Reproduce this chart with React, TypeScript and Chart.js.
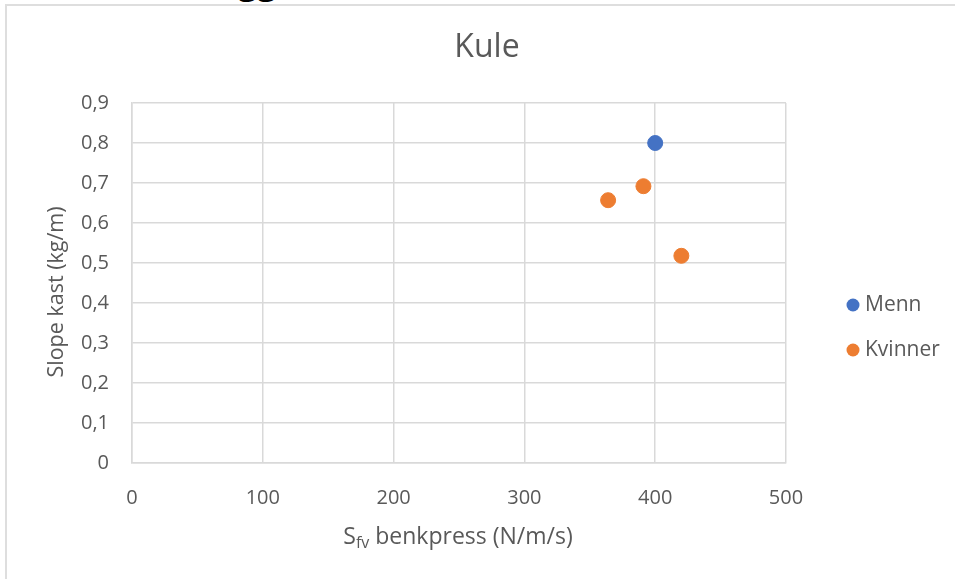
import React, { useEffect, useRef } from "react";
import { Chart, registerables } from "chart.js";

Chart.register(...registerables);

const chartTitle = "Kule";
const yAxisTitle = "Slope kast (kg/m)";
const xAxisTitleMain = "S";
const xAxisTitleSub = "fv";
const xAxisTitleRest = " benkpress (N/m/s)";

const seriesNames = ["Menn", "Kvinner"];
const seriesColors = ["#4472C4", "#ED7D31"];

const mennX = [400];
const mennY = [0.8];
const kvinnerX = [364, 391, 420];
const kvinnerY = [0.657, 0.692, 0.518];

const xTickLabels = ["0", "100", "200", "300", "400", "500"];
const yTickLabels = ["0", "0,1", "0,2", "0,3", "0,4", "0,5", "0,6", "0,7", "0,8", "0,9"];

const FONT = "'Open Sans', sans-serif";
const TEXT = "#595959";
const GRID = "#d9d9d9";

export default function App() {
  const ref = useRef<HTMLCanvasElement>(null);

  useEffect(() => {
    if (!ref.current) return;
    const decor = {
      id: "decor",
      afterDraw(chart: any) {
        const ctx = chart.ctx as CanvasRenderingContext2D;
        ctx.save();
        ctx.fillStyle = TEXT;
        // title
        ctx.font = `32px ${FONT}`;
        ctx.textAlign = "center";
        ctx.textBaseline = "middle";
        ctx.fillText(chartTitle, 487, 48);
        // y title
        ctx.save();
        ctx.translate(57, 292);
        ctx.rotate(-Math.PI / 2);
        ctx.font = `21.5px ${FONT}`;
        ctx.fillText(yAxisTitle, 0, 0);
        ctx.restore();
        // x title with subscript
        ctx.textAlign = "left";
        ctx.textBaseline = "alphabetic";
        ctx.font = `23px ${FONT}`;
        const wMain = ctx.measureText(xAxisTitleMain).width;
        const wRest = ctx.measureText(xAxisTitleRest).width;
        ctx.font = `16px ${FONT}`;
        const wSub = ctx.measureText(xAxisTitleSub).width;
        const total = wMain + wSub + wRest;
        let x = 458 - total / 2;
        const base = 544;
        ctx.font = `23px ${FONT}`;
        ctx.fillText(xAxisTitleMain, x, base);
        x += wMain;
        ctx.font = `16px ${FONT}`;
        ctx.fillText(xAxisTitleSub, x, base + 4);
        x += wSub;
        ctx.font = `23px ${FONT}`;
        ctx.fillText(xAxisTitleRest, x, base);
        // legend
        ctx.textBaseline = "middle";
        chart.data.datasets.forEach((ds: any, i: number) => {
          const ly = 305 + i * 45;
          ctx.beginPath();
          ctx.fillStyle = ds.backgroundColor;
          ctx.arc(853, ly, 6.5, 0, Math.PI * 2);
          ctx.fill();
          ctx.fillStyle = TEXT;
          ctx.font = `21px ${FONT}`;
          ctx.fillText(ds.label, 865, ly);
        });
        ctx.restore();
      },
    };

    const chart = new Chart(ref.current, {
      type: "scatter",
      data: {
        datasets: [
          {
            label: seriesNames[0],
            data: mennX.map((x, i) => ({ x, y: mennY[i] })),
            backgroundColor: seriesColors[0],
            borderColor: seriesColors[0],
            pointRadius: 7.5,
            pointHoverRadius: 7.5,
          },
          {
            label: seriesNames[1],
            data: kvinnerX.map((x, i) => ({ x, y: kvinnerY[i] })),
            backgroundColor: seriesColors[1],
            borderColor: seriesColors[1],
            pointRadius: 7.5,
            pointHoverRadius: 7.5,
          },
        ],
      },
      options: {
        animation: false,
        responsive: false,
        layout: { padding: { top: 103, right: 169, left: 0, bottom: 0 } },
        plugins: { legend: { display: false }, title: { display: false }, tooltip: { enabled: false } },
        scales: {
          x: {
            type: "linear",
            min: 0,
            max: 500,
            afterFit: (s: any) => { s.height = 116; },
            ticks: {
              stepSize: 100,
              color: TEXT,
              font: { family: FONT, size: 20 },
              padding: 23,
              callback: (_v: any, i: number) => xTickLabels[i],
            },
            grid: { color: GRID, lineWidth: 1.5, drawTicks: false },
            border: { color: GRID, width: 1.5 },
          },
          y: {
            type: "linear",
            min: 0,
            max: 0.9,
            afterFit: (s: any) => { s.width = 132; },
            ticks: {
              stepSize: 0.1,
              color: TEXT,
              font: { family: FONT, size: 20 },
              padding: 23,
              callback: (_v: any, i: number) => yTickLabels[i],
            },
            grid: { color: GRID, lineWidth: 1.5, drawTicks: false },
            border: { color: GRID, width: 1.5 },
          },
        },
      },
      plugins: [decor],
    } as any);
    return () => chart.destroy();
  }, []);

  return (
    <div style={{ position: "absolute", left: 0, top: 0, width: 955, height: 579, overflow: "hidden", background: "#fff" }}>
      <div
        style={{
          position: "absolute",
          left: 238,
          top: -37,
          fontFamily: FONT,
          fontWeight: "bold",
          fontSize: 34,
          lineHeight: "36px",
          color: "#000",
        }}
      >
        gg
      </div>
      <div
        style={{
          position: "absolute",
          left: 5,
          top: 4,
          width: 1000,
          height: 700,
          border: "2px solid #dedede",
        }}
      />
      <canvas ref={ref} width={955} height={579} style={{ position: "absolute", left: 0, top: 0 }} />
    </div>
  );
}
